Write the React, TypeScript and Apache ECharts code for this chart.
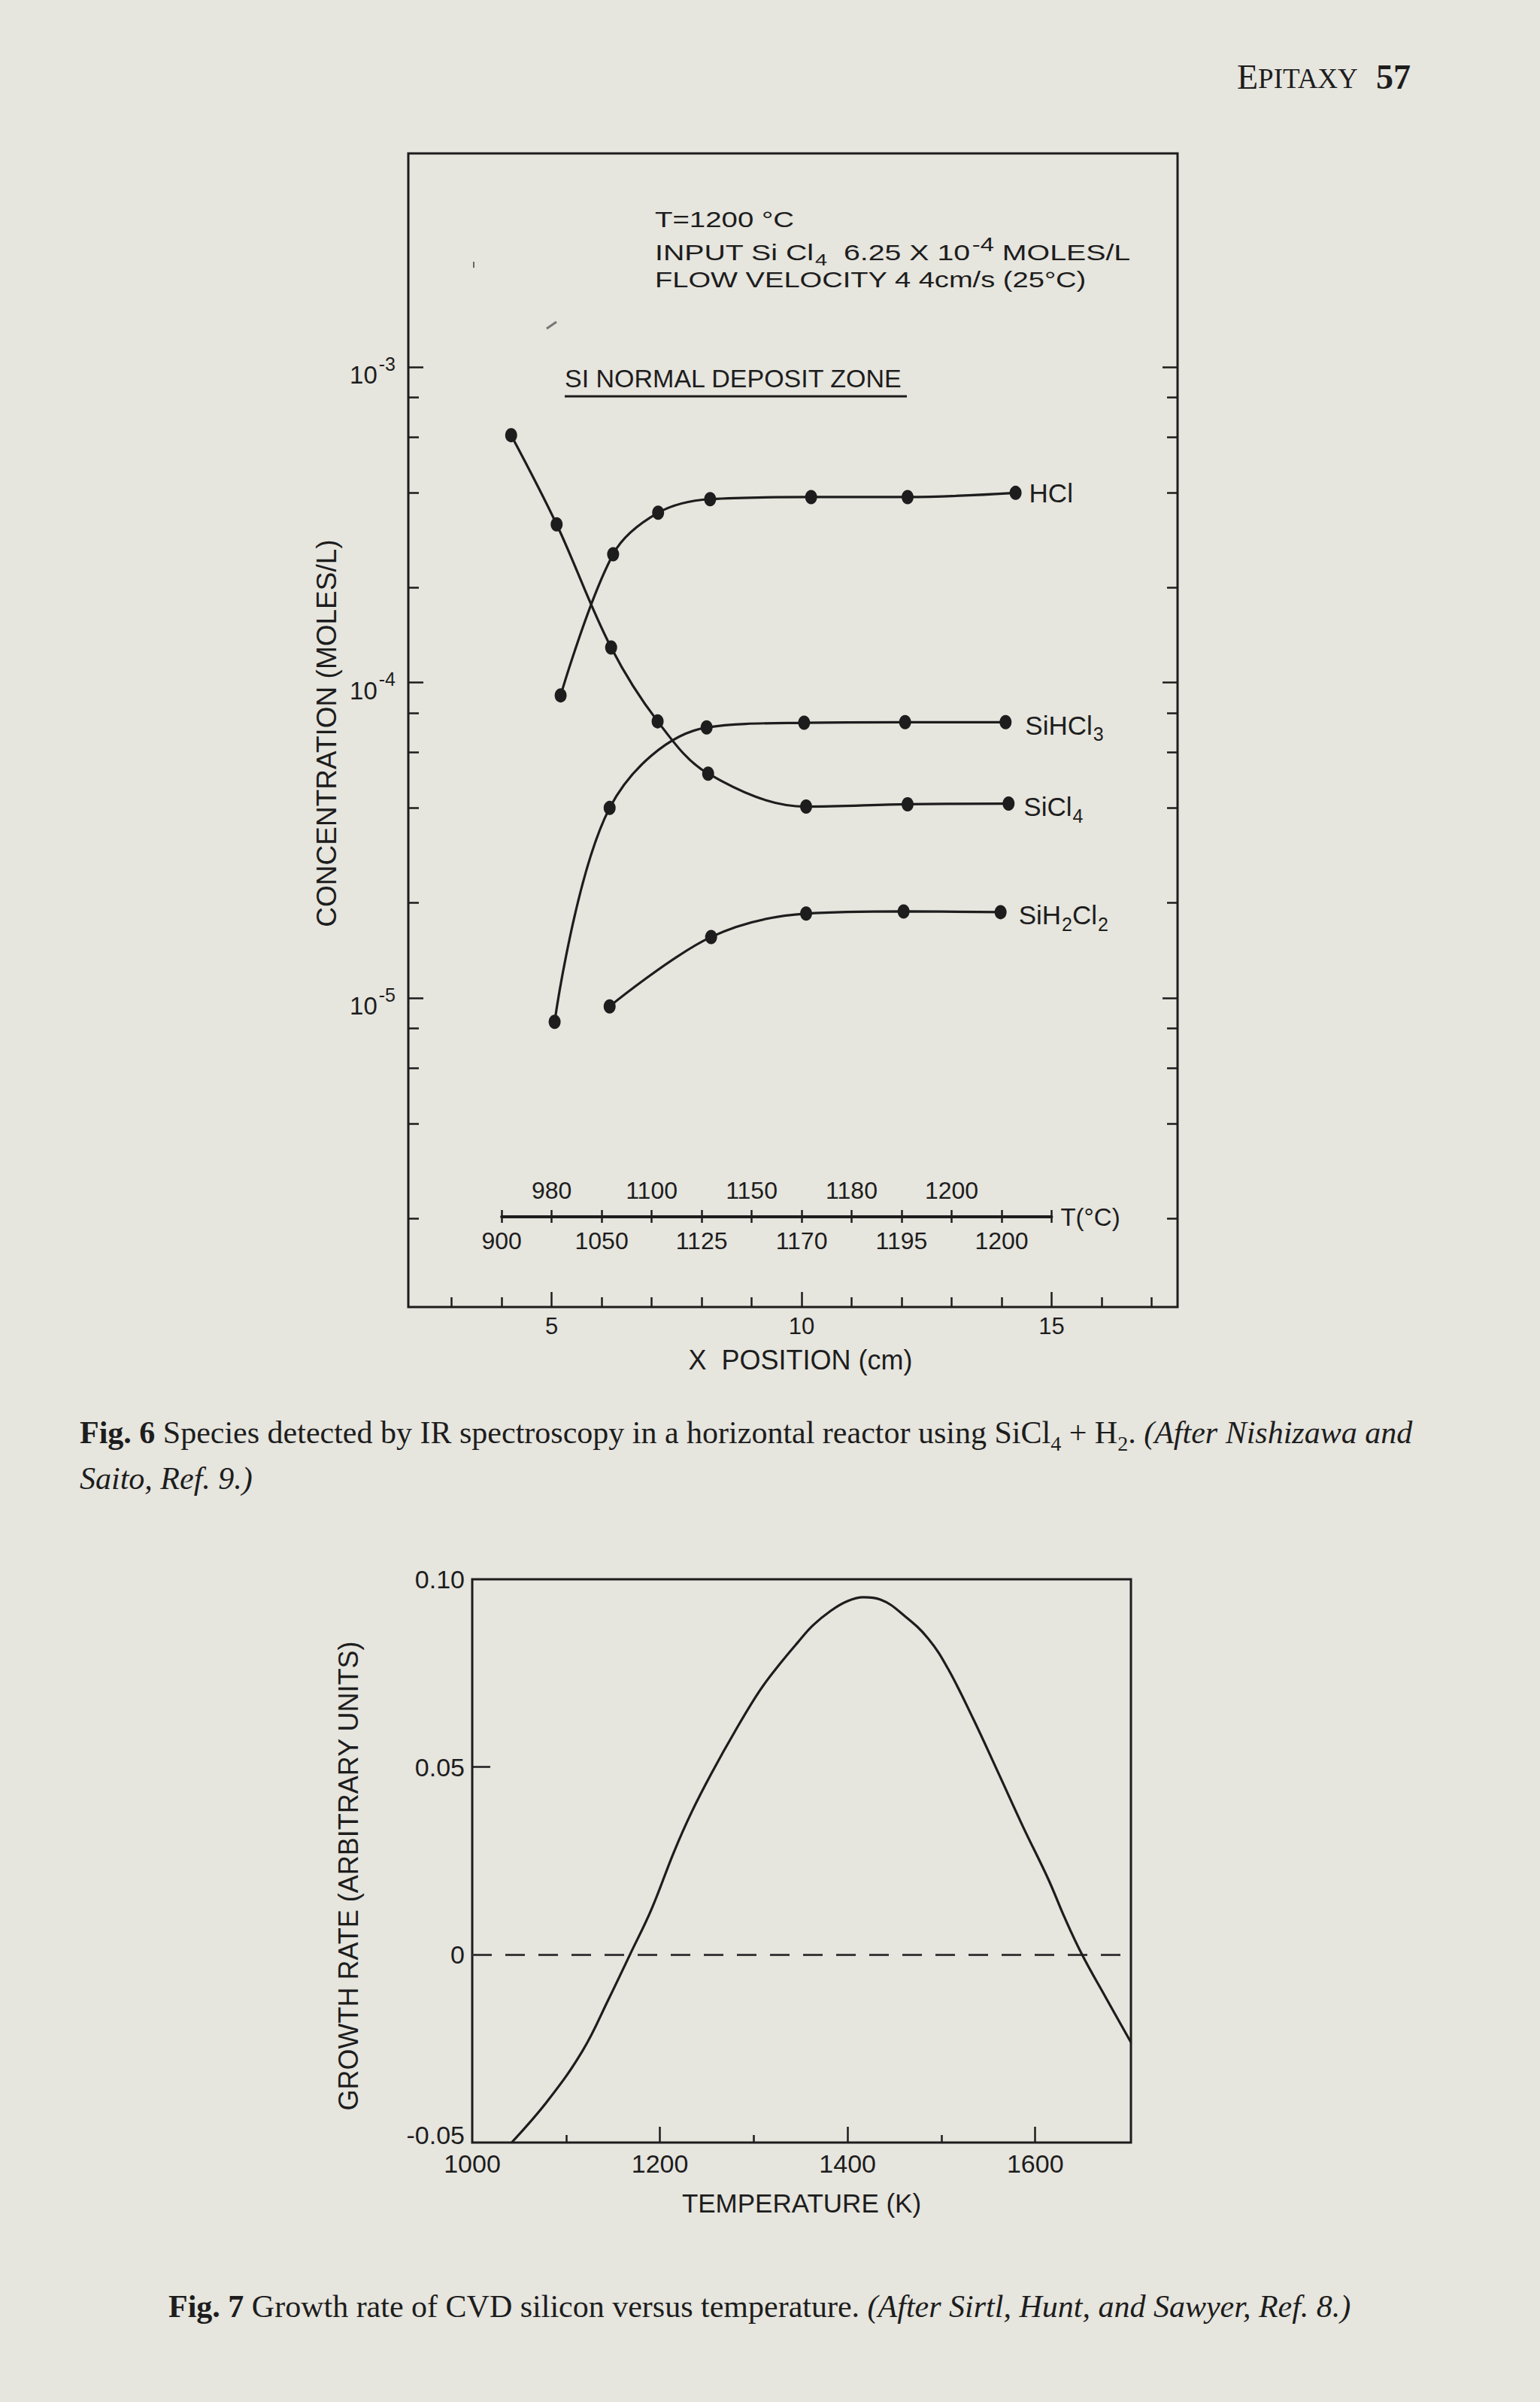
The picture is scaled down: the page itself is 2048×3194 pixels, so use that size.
import React, { useEffect, useRef } from "react";
import * as echarts from "echarts";

const PAGE_W = 2048;
const PAGE_H = 3194;
const PAPER = "#e6e5de";
const INK = "#1d1d1d";
const SANS = "'Liberation Sans', Arial, Helvetica, sans-serif";
const SERIF = "'Liberation Serif', 'Times New Roman', Times, serif";

// ---------- Fig. 6 : species vs position (concentration in moles/L) ----------
const hclPos = [5.18, 6.23, 7.13, 8.17, 10.19, 12.12, 14.28];
const hclConc = [9.1e-5, 2.55e-4, 3.45e-4, 3.81e-4, 3.87e-4, 3.87e-4, 3.99e-4];
const sihcl3Pos = [5.06, 6.16, 8.1, 10.05, 12.07, 14.08];
const sihcl3Conc = [8.4e-6, 4.0e-5, 7.2e-5, 7.45e-5, 7.48e-5, 7.48e-5];
const sicl4Pos = [4.19, 5.1, 6.19, 7.12, 8.13, 10.09, 12.12, 14.14];
const sicl4Conc = [6.08e-4, 3.17e-4, 1.29e-4, 7.53e-5, 5.14e-5, 4.04e-5, 4.11e-5, 4.13e-5];
const sih2cl2Pos = [6.16, 8.19, 10.09, 12.04, 13.98];
const sih2cl2Conc = [9.4e-6, 1.56e-5, 1.85e-5, 1.88e-5, 1.87e-5];

const posMin = 2.133;
const posMax = 17.52;
const posMajorTicks = [5, 10, 15];
const posMinorTicks = [3, 4, 6, 7, 8, 9, 11, 12, 13, 14, 16, 17];
const concLogMin = -5.98;
const concLogMax = -2.323;
const decadeExponents = [-5, -4, -3];
const minorDecades = [-6, -5, -4];
const minorMantissas = [2, 4, 6, 8];

const tempBarStart = 4;
const tempBarEnd = 15;
const tempBarTicks = [4, 5, 6, 7, 8, 9, 10, 11, 12, 13, 14, 15];
const tempUpperPos = [5, 7, 9, 11, 13];
const tempUpperLabels = ["980", "1100", "1150", "1180", "1200"];
const tempLowerPos = [4, 6, 8, 10, 12, 14];
const tempLowerLabels = ["900", "1050", "1125", "1170", "1195", "1200"];

// ---------- Fig. 7 : growth rate vs temperature ----------
const growthTempK = [1042, 1081, 1118, 1145, 1168, 1191, 1215, 1234, 1256, 1280, 1306, 1328, 1347, 1363, 1382, 1400, 1417, 1435, 1461, 1486, 1507, 1534, 1560, 1587, 1614, 1631, 1650, 1675, 1702];
const growthRate = [-0.05, -0.0387, -0.0254, -0.012, 0, 0.0121, 0.0274, 0.0381, 0.0488, 0.0595, 0.0702, 0.0775, 0.0832, 0.0877, 0.0916, 0.0942, 0.0952, 0.0946, 0.0902, 0.0842, 0.0762, 0.0628, 0.0488, 0.0341, 0.0201, 0.0101, 0, -0.0113, -0.0233];
const kMin = 1000;
const kMax = 1702;
const kMajorTicks = [1200, 1400, 1600];
const kMinorTicks = [1100, 1300, 1500];
const kLabels = [1000, 1200, 1400, 1600];
const rateMin = -0.05;
const rateMax = 0.1;
const rateInterval = 0.05;
const rateTicks = [0.05];
const zeroLevel = 0;

const tick = (w = 2.5) => ({ color: INK, width: w });

function lookup(pos: number[], labels: string[]) {
  return (v: number) => {
    const i = pos.findIndex((p) => Math.abs(p - v) < 1e-6);
    return i >= 0 ? labels[i] : "";
  };
}

const subRich = {
  n: { fontSize: 35, lineHeight: 35, verticalAlign: "top", fontFamily: SANS, color: INK },
  sub: { fontSize: 25, lineHeight: 25, padding: [17, 0, 0, 1], verticalAlign: "top", fontFamily: SANS, color: INK },
};

function buildOption() {
  const g0 = { left: 543, top: 204, width: 1023, height: 1534 };
  const pxPerCm = g0.width / (posMax - posMin);
  const g1 = {
    left: g0.left + (tempBarStart - posMin) * pxPerCm,
    top: 1617,
    width: (tempBarEnd - tempBarStart) * pxPerCm,
    height: 1,
  };
  const g2 = { left: 628, top: 2100, width: 876, height: 749 };

  const minorLog: number[] = [];
  minorDecades.forEach((d) => minorMantissas.forEach((m) => minorLog.push(d + Math.log10(m))));

  const species = [
    { name: "HCl", label: "{n|HCl}", pos: hclPos, conc: hclConc, dist: 18, off: [0, 0] },
    { name: "SiHCl3", label: "{n|SiHCl}{sub|3}", pos: sihcl3Pos, conc: sihcl3Conc, dist: 26, off: [0, 4] },
    { name: "SiCl4", label: "{n|SiCl}{sub|4}", pos: sicl4Pos, conc: sicl4Conc, dist: 20, off: [0, 4] },
    { name: "SiH2Cl2", label: "{n|SiH}{sub|2}{n|Cl}{sub|2}", pos: sih2cl2Pos, conc: sih2cl2Conc, dist: 24, off: [0, 4] },
  ];

  const speciesSeries = species.map((s) => ({
    type: "line",
    name: s.name,
    xAxisIndex: 0,
    yAxisIndex: 0,
    data: s.pos.map((p, i) => [p, Math.log10(s.conc[i])]),
    smooth: 0.35,
    symbol: "circle",
    symbolSize: [16, 19],
    itemStyle: { color: INK },
    lineStyle: { color: INK, width: 3.2 },
    clip: false,
    endLabel: {
      show: true,
      formatter: () => s.label,
      distance: s.dist,
      offset: s.off,
      rich: subRich,
    },
    z: 5,
  }));

  const noLine = { show: false, onZero: false };

  const xAxis: any[] = [
    {
      gridIndex: 0, type: "value", min: posMin, max: posMax, position: "bottom",
      axisLine: noLine, splitLine: { show: false },
      axisTick: { show: true, inside: true, length: 20, customValues: posMajorTicks, lineStyle: tick() },
      axisLabel: { customValues: posMajorTicks, margin: 10, fontSize: 31, fontFamily: SANS, color: INK, formatter: (v: number) => String(v) },
      name: "X  POSITION (cm)", nameLocation: "middle", nameGap: 52,
      nameTextStyle: { fontSize: 36, fontFamily: SANS, color: INK, padding: [0, 0, 0, 20] },
    },
    {
      gridIndex: 0, type: "value", min: posMin, max: posMax, position: "bottom",
      axisLine: noLine, splitLine: { show: false },
      axisTick: { show: true, inside: true, length: 13, customValues: posMinorTicks, lineStyle: tick() },
      axisLabel: { show: false },
    },
    {
      gridIndex: 1, type: "value", min: tempBarStart, max: tempBarEnd, position: "bottom",
      axisLine: { show: true, onZero: false, lineStyle: { color: INK, width: 4 } },
      splitLine: { show: false },
      axisTick: { show: true, inside: true, length: 9, customValues: tempBarTicks, lineStyle: tick() },
      axisLabel: { customValues: tempLowerPos, formatter: lookup(tempLowerPos, tempLowerLabels), margin: 16, fontSize: 32, fontFamily: SANS, color: INK },
      name: "T(°C)", nameLocation: "end", nameGap: 12,
      nameTextStyle: { fontSize: 33, fontFamily: SANS, color: INK },
    },
    {
      gridIndex: 1, type: "value", min: tempBarStart, max: tempBarEnd, position: "top",
      axisLine: noLine, splitLine: { show: false },
      axisTick: { show: true, inside: true, length: 9, customValues: tempBarTicks, lineStyle: tick() },
      axisLabel: { customValues: tempUpperPos, formatter: lookup(tempUpperPos, tempUpperLabels), margin: 18, fontSize: 32, fontFamily: SANS, color: INK },
    },
    {
      gridIndex: 2, type: "value", min: kMin, max: kMax, position: "bottom",
      axisLine: noLine, splitLine: { show: false },
      axisTick: { show: true, inside: true, length: 21, customValues: kMajorTicks, lineStyle: tick() },
      axisLabel: { customValues: kLabels, margin: 11, fontSize: 34, fontFamily: SANS, color: INK, formatter: (v: number) => String(v) },
      name: "TEMPERATURE (K)", nameLocation: "middle", nameGap: 63,
      nameTextStyle: { fontSize: 35, fontFamily: SANS, color: INK },
    },
    {
      gridIndex: 2, type: "value", min: kMin, max: kMax, position: "bottom",
      axisLine: noLine, splitLine: { show: false },
      axisTick: { show: true, inside: true, length: 10, customValues: kMinorTicks, lineStyle: tick() },
      axisLabel: { show: false },
    },
  ];

  const yAxis: any[] = [
    {
      gridIndex: 0, type: "value", min: concLogMin, max: concLogMax, position: "left",
      axisLine: noLine, splitLine: { show: false },
      axisTick: { show: true, inside: true, length: 20, customValues: decadeExponents, lineStyle: tick() },
      axisLabel: {
        customValues: decadeExponents,
        margin: 17,
        formatter: (v: number) => `{a|10}{s|${Math.round(v)}}`,
        rich: {
          a: { fontSize: 33, lineHeight: 33, padding: [11, 0, 0, 0], verticalAlign: "top", fontFamily: SANS, color: INK },
          s: { fontSize: 25, lineHeight: 25, padding: [0, 0, 0, 2], verticalAlign: "top", fontFamily: SANS, color: INK },
        },
      },
      name: "CONCENTRATION (MOLES/L)", nameLocation: "middle", nameGap: 90,
      nameTextStyle: { fontSize: 37, fontFamily: SANS, color: INK, padding: [0, 8, 0, 0] },
    },
    {
      gridIndex: 0, type: "value", min: concLogMin, max: concLogMax, position: "left",
      axisLine: noLine, splitLine: { show: false },
      axisTick: { show: true, inside: true, length: 14, customValues: minorLog, lineStyle: tick() },
      axisLabel: { show: false },
    },
    {
      gridIndex: 0, type: "value", min: concLogMin, max: concLogMax, position: "right",
      axisLine: noLine, splitLine: { show: false },
      axisTick: { show: true, inside: true, length: 20, customValues: decadeExponents, lineStyle: tick() },
      axisLabel: { show: false },
    },
    {
      gridIndex: 0, type: "value", min: concLogMin, max: concLogMax, position: "right",
      axisLine: noLine, splitLine: { show: false },
      axisTick: { show: true, inside: true, length: 14, customValues: minorLog, lineStyle: tick() },
      axisLabel: { show: false },
    },
    { gridIndex: 1, type: "value", min: 0, max: 1, show: false },
    {
      gridIndex: 2, type: "value", min: rateMin, max: rateMax, interval: rateInterval, position: "left",
      axisLine: noLine, splitLine: { show: false },
      axisTick: { show: true, inside: true, length: 24, customValues: rateTicks, lineStyle: tick() },
      axisLabel: {
        margin: 10, fontSize: 34, fontFamily: SANS, color: INK,
        formatter: (v: number) =>
          Math.abs(v) < 1e-9 ? "0" : v < 0 ? `{lo|${v.toFixed(2)}}` : v.toFixed(2),
        rich: {
          lo: { fontSize: 34, fontFamily: SANS, color: INK, padding: [0, 0, 20, 0] },
        },
      },
      name: "GROWTH RATE (ARBITRARY UNITS)", nameLocation: "middle", nameGap: 147,
      nameTextStyle: { fontSize: 36, fontFamily: SANS, color: INK, padding: [0, 40, 0, 0] },
    },
  ];

  const growthSeries = {
    type: "line",
    name: "Growth rate",
    xAxisIndex: 4,
    yAxisIndex: 5,
    data: growthTempK.map((k, i) => [k, growthRate[i]]),
    smooth: 0.4,
    symbol: "none",
    lineStyle: { color: INK, width: 3.2 },
    markLine: {
      silent: true,
      symbol: ["none", "none"],
      label: { show: false },
      lineStyle: { color: "#3a3a3a", width: 3, type: [26, 18] },
      data: [{ yAxis: zeroLevel }],
    },
    z: 5,
  };

  const txt = (x: number, y: number, text: string, style: any = {}, extra: any = {}) => ({
    type: "text",
    x,
    y,
    ...extra,
    style: {
      text,
      fill: INK,
      fontFamily: SANS,
      fontSize: 30,
      align: "left",
      textAlign: "left",
      verticalAlign: "middle",
      textVerticalAlign: "middle",
      ...style,
    },
  });

  const annRich = {
    n: { fontSize: 30, lineHeight: 30, padding: [8, 0, 0, 0], verticalAlign: "top", fontFamily: SANS, color: INK },
    sup: { fontSize: 25, lineHeight: 25, padding: [1, 0, 0, 2], verticalAlign: "top", fontFamily: SANS, color: INK },
    sub: { fontSize: 22, lineHeight: 22, padding: [22, 0, 0, 1], verticalAlign: "top", fontFamily: SANS, color: INK },
  };

  const capRich = {
    r: { fontSize: 42, lineHeight: 46, verticalAlign: "top", fontFamily: SERIF, color: INK },
    b: { fontSize: 42, lineHeight: 46, verticalAlign: "top", fontFamily: SERIF, fontWeight: "bold", color: INK },
    i: { fontSize: 42, lineHeight: 46, verticalAlign: "top", fontFamily: SERIF, fontStyle: "italic", color: INK },
    sub: { fontSize: 28, lineHeight: 28, padding: [21, 0, 0, 0], verticalAlign: "top", fontFamily: SERIF, color: INK },
  };

  const graphic: any[] = [
    txt(1645, 102, "{E|E}{s|PITAXY}", {
      rich: {
        E: { fontSize: 46, lineHeight: 46, verticalAlign: "top", fontFamily: SERIF, color: INK },
        s: { fontSize: 37, lineHeight: 37, padding: [7, 0, 0, 0], verticalAlign: "top", fontFamily: SERIF, color: INK },
      },
    }),
    txt(1830, 102, "57", { fontFamily: SERIF, fontSize: 46, fontWeight: "bold" }),

    txt(871, 292, "T=1200 °C", { fontSize: 30 }, { scaleX: 1.28 }),
    txt(871, 327, "{n|INPUT Si Cl}{sub|4}{n|  6.25 X 10}{sup|-4}{n| MOLES/L}", { rich: annRich }, { scaleX: 1.31 }),
    txt(871, 372, "FLOW VELOCITY 4 4cm/s (25°C)", { fontSize: 30 }, { scaleX: 1.27 }),

    txt(751, 503, "SI NORMAL DEPOSIT ZONE", { fontSize: 34 }),
    { type: "line", shape: { x1: 751, y1: 527, x2: 1206, y2: 527 }, style: { stroke: INK, lineWidth: 3 } },

    { type: "line", shape: { x1: 630, y1: 348, x2: 630, y2: 356 }, style: { stroke: "#666", lineWidth: 2 } },
    { type: "line", shape: { x1: 727, y1: 437, x2: 740, y2: 428 }, style: { stroke: "#777", lineWidth: 3 } },

    txt(106, 1907,
      "{b|Fig. 6}{r| Species detected by IR spectroscopy in a horizontal reactor using SiCl}{sub|4}{r| + H}{sub|2}{r|. }{i|(After Nishizawa and}",
      { rich: capRich }),
    txt(106, 1968, "{i|Saito, Ref. 9.)}", { rich: capRich }),
    txt(224, 3069,
      "{b|Fig. 7}{r| Growth rate of CVD silicon versus temperature. }{i|(After Sirtl, Hunt, and Sawyer, Ref. 8.)}",
      { rich: capRich }),
  ];

  return {
    animation: false,
    backgroundColor: PAPER,
    grid: [
      { ...g0, show: true, borderColor: INK, borderWidth: 3, backgroundColor: "transparent", containLabel: false },
      { ...g1, show: false, containLabel: false },
      { ...g2, show: true, borderColor: INK, borderWidth: 3, backgroundColor: "transparent", containLabel: false },
    ],
    xAxis,
    yAxis,
    series: [...speciesSeries, growthSeries],
    graphic,
  };
}

export default function App() {
  const ref = useRef<HTMLDivElement>(null);
  useEffect(() => {
    const el = ref.current;
    if (!el) return;
    const chart = echarts.init(el, null, { renderer: "svg", width: PAGE_W, height: PAGE_H });
    chart.setOption(buildOption() as any);
    return () => chart.dispose();
  }, []);
  return (
    <div
      ref={ref}
      style={{ position: "absolute", left: 0, top: 0, width: PAGE_W, height: PAGE_H, background: PAPER }}
    />
  );
}
